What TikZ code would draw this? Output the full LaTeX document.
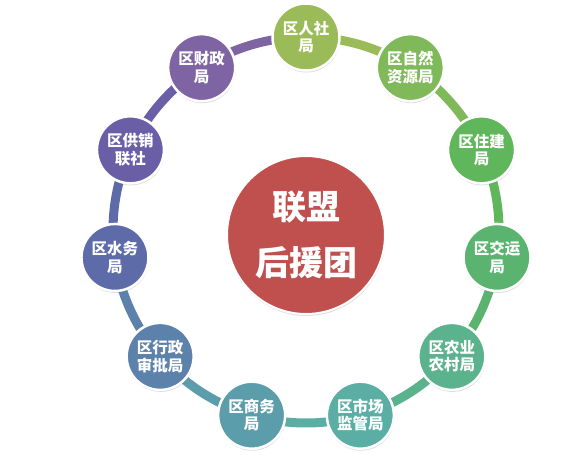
\documentclass[tikz,border=0pt]{standalone}
\usepackage{fontspec}
\newfontfamily\cjk{Noto Sans CJK SC}
\usetikzlibrary{shadows,calc}
\definecolor{c0}{HTML}{9BBB59}
\definecolor{c1}{HTML}{80B95A}
\definecolor{c2}{HTML}{60B65A}
\definecolor{c3}{HTML}{5AB46F}
\definecolor{c4}{HTML}{5AB38C}
\definecolor{c5}{HTML}{5BAEA4}
\definecolor{c6}{HTML}{5C9DAB}
\definecolor{c7}{HTML}{5C81AA}
\definecolor{c8}{HTML}{5E6BA9}
\definecolor{c9}{HTML}{6A5FA6}
\definecolor{c10}{HTML}{7E64A3}
\definecolor{hubred}{HTML}{C0504D}
\tikzset{
  org/.style={circle, minimum size=67pt, inner sep=0pt, draw=white, line width=2.5pt,
    text=white, font=\cjk\bfseries\fontsize{15.5}{17.5}\selectfont, align=center,
    drop shadow={opacity=0.28, shadow xshift=0.5pt, shadow yshift=-2pt}},
  hub/.style={circle, minimum size=158pt, inner sep=0pt, draw=white, line width=2pt,
    fill=hubred, text=white, font=\cjk\bfseries\fontsize{34}{56}\selectfont, align=center,
    drop shadow={opacity=0.25, shadow xshift=0.5pt, shadow yshift=-2pt}},
  ringseg/.style={line width=9pt}
}
\begin{document}
\begin{tikzpicture}[x=1pt,y=-1pt]
\useasboundingbox (0,0) rectangle (582,467);
\fill[white] (0,0) rectangle (582,467);
\coordinate (ctr) at (306,230);
\pgfmathsetmacro{\stp}{360/11}
% ring segments
\foreach \i in {0,...,10}{
  \pgfmathsetmacro{\sa}{-90+\i*\stp}
  \pgfmathsetmacro{\ea}{-90+(\i+1)*\stp}
  \draw[ringseg, draw=c\i] (ctr) ++(\sa:193) arc[start angle=\sa, end angle=\ea, radius=193];
}
% hub
\node[hub] (hub) at (306,235) {联盟\\后援团};
% organisation nodes
\foreach \i/\t in {0/{区人社\\局},1/{区自然\\资源局},2/{区住建\\局},3/{区交运\\局},4/{区农业\\农村局},5/{区市场\\监管局},6/{区商务\\局},7/{区行政\\审批局},8/{区水务\\局},9/{区供销\\联社},10/{区财政\\局}}{
  \pgfmathsetmacro{\ang}{-90+\i*\stp}
  \node[org, fill=c\i] (n\i) at ($(ctr)+(\ang:193)$) {\t};
}
\end{tikzpicture}
\end{document}
